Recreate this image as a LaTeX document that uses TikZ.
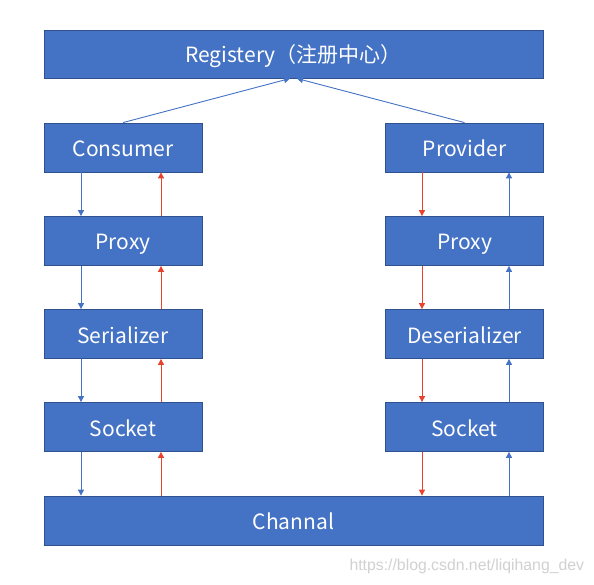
\documentclass[tikz,border=0pt]{standalone}
\usepackage{fontspec}
\setmainfont{Noto Sans CJK SC}
\newfontfamily\wmfont{Liberation Sans}
\usetikzlibrary{arrows.meta}
\definecolor{boxfill}{HTML}{4472C4}
\definecolor{boxline}{HTML}{2F528F}
\definecolor{arrred}{HTML}{E8412C}
\tikzset{
  layer/.style={draw=boxline, line width=0.8pt, fill=boxfill, text=white, font=\fontsize{21}{24}\selectfont, inner sep=0pt, minimum height=49pt, text height=20pt, text depth=2pt},
  side/.style={layer, minimum width=158pt},
  wide/.style={layer, minimum width=499pt},
  barrow/.style={draw=boxfill, line width=0.9pt, -{Triangle[width=6pt,length=6pt]}},
  rarrow/.style={draw=arrred, line width=0.9pt, -{Triangle[width=6pt,length=6pt]}}
}
\begin{document}
\begin{tikzpicture}[x=1pt,y=-1pt]
\useasboundingbox (0,0) rectangle (594,585);
\fill[white] (0,0) rectangle (594,585);
\node[wide, minimum height=48pt] (reg) at (293.5,54) {Registery（注册中心）};
\node[side] (cons) at (123,147.5) {Consumer};
\node[side] (prov) at (464.5,147.5) {Provider};
\node[side] (lproxy) at (123,241) {Proxy};
\node[side] (rproxy) at (464.5,241) {Proxy};
\node[side] (ser) at (123,334) {Serializer};
\node[side] (deser) at (464.5,334) {Deserializer};
\node[side] (lsock) at (123,427) {Socket};
\node[side] (rsock) at (464.5,427) {Socket};
\node[wide] (chan) at (293.5,520.5) {Channal};
\node[font=\wmfont\fontsize{15.8}{18}\selectfont, text=black!18, anchor=west] (wm) at (346,566) {https://blog.csdn.net/liqihang\_dev};
% registry links
\coordinate (regl) at (290,78.5);
\coordinate (regr) at (297,78.5);
\draw[barrow] (cons.north) -- (regl);
\draw[barrow] (prov.north) -- (regr);
% left side
\foreach \a/\b in {cons/lproxy, lproxy/ser, ser/lsock, lsock/chan}{
  \draw[barrow] (\a.south -| 81,0) -- (\b.north -| 81,0);
  \draw[rarrow] (\b.north -| 161,0) -- (\a.south -| 161,0);
}
% right side
\foreach \a/\b in {prov/rproxy, rproxy/deser, deser/rsock, rsock/chan}{
  \draw[rarrow] (\a.south -| 422,0) -- (\b.north -| 422,0);
  \draw[barrow] (\b.north -| 509,0) -- (\a.south -| 509,0);
}
\end{tikzpicture}
\end{document}
